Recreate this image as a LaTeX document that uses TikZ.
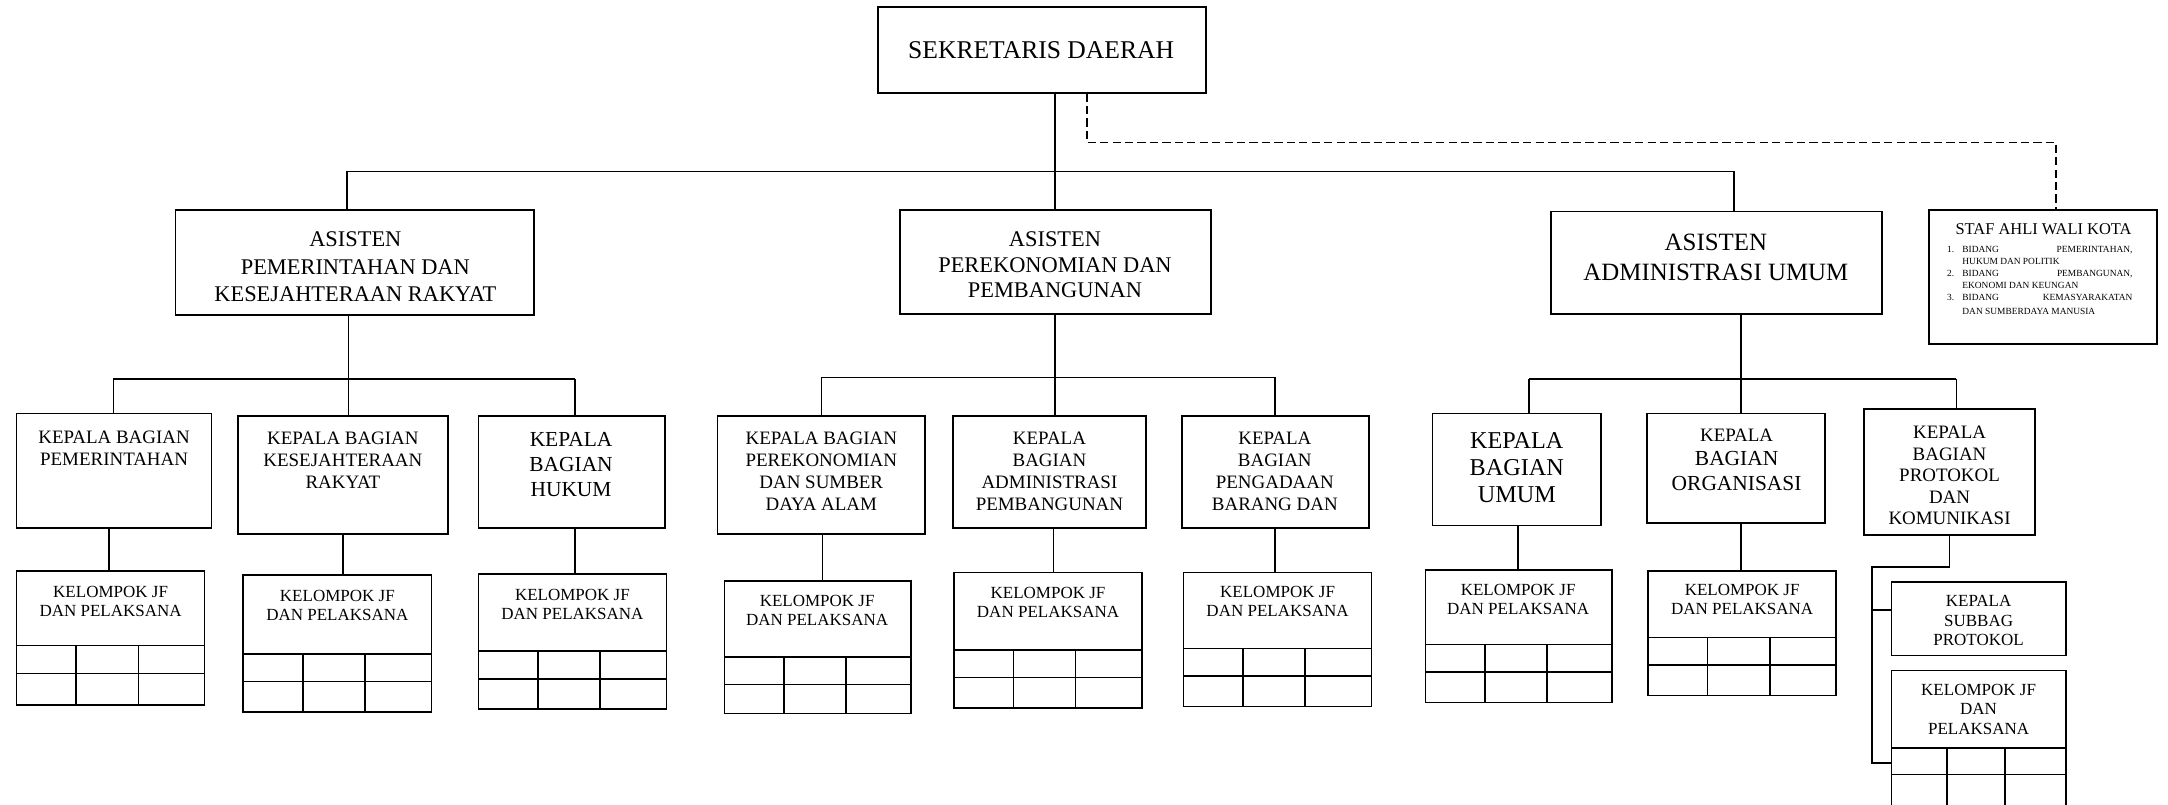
\documentclass[tikz,border=0pt]{standalone}
\usepackage{fontspec}
\setmainfont{Liberation Serif}
\usetikzlibrary{fit}
\tikzset{
  box/.style={draw, line width=1.25pt, inner sep=0pt},
  conn/.style={line width=1.1pt},
  gridln/.style={line width=1.1pt},
  dconn/.style={line width=1.1pt, dash pattern=on 6pt off 3pt},
  lbl/.style={align=center, inner sep=0pt},
}
\newcommand\fs[2]{\fontsize{#1}{#2}\selectfont}
% name, x1, y1, x2, y2, row line 1, row line 2, col 1, col 2
\newcommand\jfbox[9]{%
  \node[box, fit={(#2,#3) (#4,#5)}] (#1) {};
  \draw[gridln] (#2,#6) -- (#4,#6) (#2,#7) -- (#4,#7) (#8,#6) -- (#8,#5) (#9,#6) -- (#9,#5);
}
\begin{document}
\begin{tikzpicture}[x=1pt,y=-1pt]
\useasboundingbox (0,0) rectangle (1568,582);
\clip (0,0) rectangle (1568,582);

% ---------- top level ----------
\node[box, fit={(635,5) (872,67)}] (S) {};
\node[lbl, font=\fs{18.5}{22}] (St) at (753,36) {SEKRETARIS DAERAH};

\node[box, fit={(127,152) (386,228)}] (A1) {};
\node[lbl, font=\fs{16.2}{20}] (A1t) at (257,193) {ASISTEN\\PEMERINTAHAN DAN\\KESEJAHTERAAN RAKYAT};
\node[box, fit={(651,152) (876,227)}] (A2) {};
\node[lbl, font=\fs{16.2}{18.5}] (A2t) at (763,191.5) {ASISTEN\\PEREKONOMIAN DAN\\PEMBANGUNAN};
\node[box, fit={(1122,153) (1361,227)}] (A3) {};
\node[lbl, font=\fs{18}{22}] (A3t) at (1241,186) {ASISTEN\\ADMINISTRASI UMUM};

\node[box, fit={(1395,152) (1560,249)}] (SA) {};
\node[lbl, font=\fs{11.9}{14}] (SAt) at (1478,166) {STAF AHLI WALI KOTA};
\node[inner sep=0pt, anchor=north west, font=\fs{6.8}{8.8}] (SAl) at (1408,176) {%
  \begin{tabular}{@{}r@{\hspace{6pt}}l@{}}
  1. & \makebox[123pt][s]{BIDANG PEMERINTAHAN,}\\
     & HUKUM DAN POLITIK\\
  2. & \makebox[123pt][s]{BIDANG PEMBANGUNAN,}\\
     & EKONOMI DAN KEUNGAN\\
  3. & \makebox[123pt][s]{BIDANG KEMASYARAKATAN}\\[1pt]
     & DAN SUMBERDAYA MANUSIA
  \end{tabular}};

% ---------- kepala bagian ----------
\node[box, fit={(12,299) (153,382)}] (K1) {};
\node[lbl, font=\fs{13.7}{16}] (K1t) at (82.5,324) {KEPALA BAGIAN\\PEMERINTAHAN};
\node[box, fit={(172,301) (324,386)}] (K2) {};
\node[lbl, font=\fs{13.7}{16}] (K2t) at (248,333) {KEPALA BAGIAN\\KESEJAHTERAAN\\RAKYAT};
\node[box, fit={(346,301) (481,382)}] (K3) {};
\node[lbl, font=\fs{15.5}{18}] (K3t) at (413,336) {KEPALA\\BAGIAN\\HUKUM};

\node[box, fit={(519,301) (669,386)}] (K4) {};
\node[lbl, font=\fs{13.7}{16}] (K4t) at (594,341) {KEPALA BAGIAN\\PEREKONOMIAN\\DAN SUMBER\\DAYA ALAM};
\node[box, fit={(689,301) (829,382)}] (K5) {};
\node[lbl, font=\fs{13.7}{16}] (K5t) at (759,341) {KEPALA\\BAGIAN\\ADMINISTRASI\\PEMBANGUNAN};
\node[box, fit={(855,301) (990,382)}] (K6) {};
\node[lbl, font=\fs{13.7}{16}] (K6t) at (922,341) {KEPALA\\BAGIAN\\PENGADAAN\\BARANG DAN};

\node[box, fit={(1036,299) (1158,380)}] (K7) {};
\node[lbl, font=\fs{17.5}{19.5}] (K7t) at (1097,338.5) {KEPALA\\BAGIAN\\UMUM};
\node[box, fit={(1191,299) (1320,378)}] (K8) {};
\node[lbl, font=\fs{15.5}{17.5}] (K8t) at (1256,332.5) {{\fs{13.7}{17.5}KEPALA}\\BAGIAN\\ORGANISASI};
\node[box, fit={(1348,296) (1472,387)}] (K9) {};
\node[lbl, font=\fs{13.7}{15.5}] (K9t) at (1410,344) {KEPALA\\BAGIAN\\PROTOKOL\\DAN\\KOMUNIKASI};

\node[box, fit={(1368,421) (1494,474)}] (SB) {};
\node[lbl, font=\fs{12.3}{14}] (SBt) at (1431,449) {KEPALA\\SUBBAG\\PROTOKOL};

% ---------- kelompok JF ----------
\jfbox{J1}{12}{413}{148}{510}{467}{487}{55}{100}
\node[lbl, font=\fs{12.3}{14}] (J1t) at (80,435) {KELOMPOK JF\\DAN PELAKSANA};
\jfbox{J2}{176}{416}{312}{515}{473}{493}{219}{264}
\node[lbl, font=\fs{12.3}{14}] (J2t) at (244,438) {KELOMPOK JF\\DAN PELAKSANA};
\jfbox{J3}{346}{415}{482}{513}{471}{491}{389}{434}
\node[lbl, font=\fs{12.3}{14}] (J3t) at (414,437) {KELOMPOK JF\\DAN PELAKSANA};
\jfbox{J4}{524}{420}{659}{516}{475}{495}{567}{612}
\node[lbl, font=\fs{12.3}{14}] (J4t) at (591,441.5) {KELOMPOK JF\\DAN PELAKSANA};
\jfbox{J5}{690}{414}{826}{512}{470}{490}{733}{778}
\node[lbl, font=\fs{12.3}{14}] (J5t) at (758,435.5) {KELOMPOK JF\\DAN PELAKSANA};
\jfbox{J6}{856}{414}{992}{511}{469}{489}{899}{944}
\node[lbl, font=\fs{12.3}{14}] (J6t) at (924,435) {KELOMPOK JF\\DAN PELAKSANA};
\jfbox{J7}{1031}{412}{1166}{508}{466}{486}{1074}{1119}
\node[lbl, font=\fs{12.3}{14}] (J7t) at (1098,433.5) {KELOMPOK JF\\DAN PELAKSANA};
\jfbox{J8}{1192}{413}{1328}{503}{461}{481}{1235}{1280}
\node[lbl, font=\fs{12.3}{14}] (J8t) at (1260,433.5) {KELOMPOK JF\\DAN PELAKSANA};
\jfbox{J9}{1368}{485}{1494}{600}{541}{560}{1408}{1450}
\node[lbl, font=\fs{12.3}{14}] (J9t) at (1431,513) {KELOMPOK JF\\DAN\\PELAKSANA};

% ---------- connectors: sekretaris ----------
\coordinate (t0) at (763,124);
\coordinate (t1) at (251,124);
\coordinate (t3) at (1254,124);
\draw[conn] (S.south -| t0) -- (t0);
\draw[conn] (t1) -- (t3);
\draw[conn] (t1) -- (t1 |- A1.north);
\draw[conn] (t0) -- (t0 |- A2.north);
\draw[conn] (t3) -- (t3 |- A3.north);
\coordinate (d0) at (786,103);
\coordinate (d1) at (1487,103);
\draw[dconn] (S.south -| d0) -- (d0) -- (d1) -- (d1 |- SA.north);

% ---------- group 1 ----------
\coordinate (g1) at (252,274);
\coordinate (g1l) at (82,274);
\coordinate (g1r) at (416,274);
\draw[conn] (A1.south -| g1) -- (g1);
\draw[conn] (g1l) -- (g1r);
\draw[conn] (g1l) -- (g1l |- K1.north);
\draw[conn] (g1) -- (g1 |- K2.north);
\draw[conn] (g1r) -- (g1r |- K3.north);
\coordinate (v1) at (79,0);
\coordinate (v2) at (248,0);
\coordinate (v3) at (416,0);
\draw[conn] (K1.south -| v1) -- (J1.north -| v1);
\draw[conn] (K2.south -| v2) -- (J2.north -| v2);
\draw[conn] (K3.south -| v3) -- (J3.north -| v3);

% ---------- group 2 ----------
\coordinate (g2) at (763,273);
\coordinate (g2l) at (594,273);
\coordinate (g2r) at (922,273);
\draw[conn] (A2.south -| g2) -- (g2);
\draw[conn] (g2l) -- (g2r);
\draw[conn] (g2l) -- (g2l |- K4.north);
\draw[conn] (g2) -- (g2 |- K5.north);
\draw[conn] (g2r) -- (g2r |- K6.north);
\coordinate (v4) at (595,0);
\coordinate (v5) at (762,0);
\coordinate (v6) at (922,0);
\draw[conn] (K4.south -| v4) -- (J4.north -| v4);
\draw[conn] (K5.south -| v5) -- (J5.north -| v5);
\draw[conn] (K6.south -| v6) -- (J6.north -| v6);

% ---------- group 3 ----------
\coordinate (g3) at (1259,274);
\coordinate (g3l) at (1106,274);
\coordinate (g3r) at (1415,274);
\draw[conn] (A3.south -| g3) -- (g3);
\draw[conn] (g3l) -- (g3r);
\draw[conn] (g3l) -- (g3l |- K7.north);
\draw[conn] (g3) -- (g3 |- K8.north);
\draw[conn] (g3r) -- (g3r |- K9.north);
\coordinate (v7) at (1098,0);
\coordinate (v8) at (1259,0);
\draw[conn] (K7.south -| v7) -- (J7.north -| v7);
\draw[conn] (K8.south -| v8) -- (J8.north -| v8);
\coordinate (p0) at (1410,410);
\coordinate (p1) at (1354,410);
\coordinate (p2) at (1354,552);
\coordinate (p3) at (1354,441);
\draw[conn] (K9.south -| p0) -- (p0) -- (p1) -- (p2) -- (p2 -| J9.west);
\draw[conn] (p3) -- (p3 -| SB.west);
\end{tikzpicture}
\end{document}
